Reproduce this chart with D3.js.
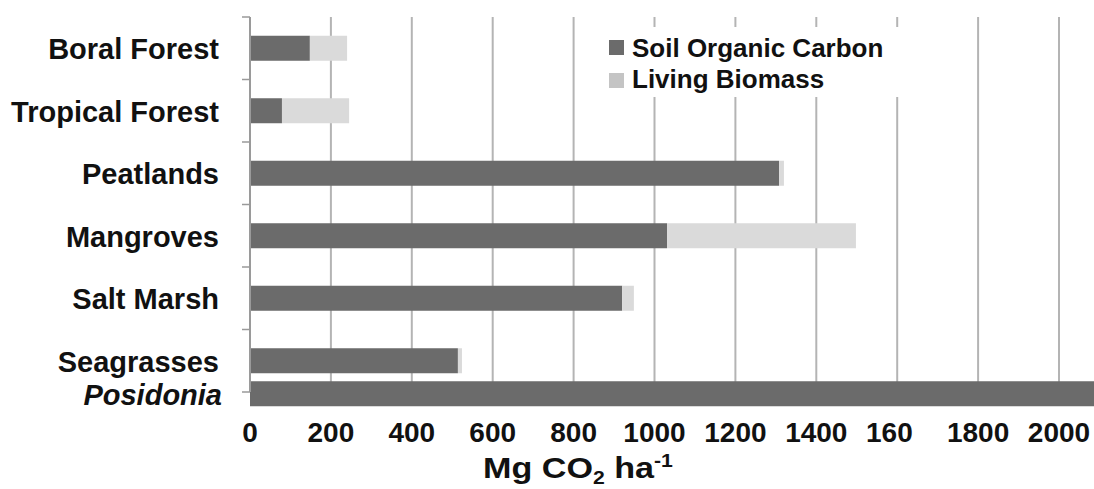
<!DOCTYPE html>
<html><head><meta charset="utf-8">
<script src="https://cdn.jsdelivr.net/npm/d3@7"></script>
<style>
html,body{margin:0;padding:0;background:#fff;}
svg{display:block;font-family:"Liberation Sans",Arial,Helvetica,sans-serif;}
</style></head>
<body>
<svg id="chart" width="1094" height="489"></svg>
<script>
// ---- data ----
const categories = ["Boral Forest", "Tropical Forest", "Peatlands", "Mangroves", "Salt Marsh", "Seagrasses"];
const soilOrganicCarbon = [148, 79, 1308, 1031, 920, 514];
const livingBiomass = [92, 166, 12, 467, 29, 10];
const extraLabel = "Posidonia";
const extraValue = 2250;
const tickValues = [0, 200, 400, 600, 800, 1000, 1200, 1400, 1600, 1800, 2000];
const tickLabels = ["0", "200", "400", "600", "800", "1000", "1200", "1400", "160", "1800", "2000"];
const seriesNames = ["Soil Organic Carbon", "Living Biomass"];

// ---- layout ----
const svg = d3.select("#chart");
const x = d3.scaleLinear().domain([0, 2000]).range([250, 1059]);
const y = d3.scaleBand().domain(categories).range([17, 392]).paddingInner(0.6).paddingOuter(0.3);
const dark = "#6b6b6b", light = "#dadada", gridC = "#b4b4b4";

// gridlines
svg.append("g").selectAll("line").data(tickValues.filter(d => d > 0)).join("line")
  .attr("x1", d => x(d)).attr("x2", d => x(d))
  .attr("y1", 17).attr("y2", 392)
  .attr("stroke", gridC).attr("stroke-width", 2);

// bars
const rows = categories.map((c, i) => ({c, soc: soilOrganicCarbon[i], bio: livingBiomass[i]}));
const gb = svg.append("g");
gb.selectAll("rect.soc").data(rows).join("rect").attr("class", "soc")
  .attr("x", x(0)).attr("y", d => y(d.c))
  .attr("width", d => x(d.soc) - x(0)).attr("height", y.bandwidth()).attr("fill", dark);
gb.selectAll("rect.bio").data(rows).join("rect").attr("class", "bio")
  .attr("x", d => x(d.soc)).attr("y", d => y(d.c))
  .attr("width", d => x(d.soc + d.bio) - x(d.soc)).attr("height", y.bandwidth()).attr("fill", light);
// Posidonia bar (sub-row under Seagrasses)
const yPos = y("Seagrasses") + y.bandwidth() + 8;
gb.append("rect").attr("x", x(0)).attr("y", yPos)
  .attr("width", x(extraValue) - x(0)).attr("height", y.bandwidth()).attr("fill", dark);

// y axis line + ticks at band boundaries
const axisC = "#9a9a9a";
svg.append("line").attr("x1", 250).attr("x2", 250).attr("y1", 17).attr("y2", 392)
  .attr("stroke", axisC).attr("stroke-width", 2);
const bounds = d3.range(categories.length + 1).map(i => y.range()[0] + i * y.step());
svg.append("g").selectAll("line").data(bounds).join("line")
  .attr("x1", 242).attr("x2", 250).attr("y1", d => d).attr("y2", d => d)
  .attr("stroke", axisC).attr("stroke-width", 1.5);

// category labels
svg.append("g").selectAll("text").data(categories).join("text")
  .attr("x", 219).attr("y", d => y(d) + y.bandwidth() / 2 + 11)
  .attr("text-anchor", "end").attr("font-size", 29).attr("font-weight", "bold").attr("fill", "#111")
  .text(d => d);
svg.append("text").attr("x", 222).attr("y", yPos + y.bandwidth() / 2 + 11)
  .attr("text-anchor", "end").attr("font-size", 29).attr("font-weight", "bold")
  .attr("font-style", "italic").attr("fill", "#111").text(extraLabel);

// x tick labels
const tg = svg.append("g").attr("font-size", 28).attr("font-weight", "bold").attr("fill", "#111");
tickValues.forEach((v, i) => {
  const t = tg.append("text").attr("y", 442).attr("x", x(v)).attr("text-anchor", "middle").text(String(v));
  if (tickLabels[i] !== String(v)) {
    const w = t.node().getComputedTextLength();
    t.attr("text-anchor", "start").attr("x", x(v) - w / 2).text(tickLabels[i]);
  } else {
    t.text(tickLabels[i]);
  }
});

// axis title (stretched horizontally like the reference)
const tg2 = svg.append("g");
const tt = tg2.append("text").attr("x", 0).attr("y", 0)
  .attr("font-size", 29).attr("font-weight", "bold").attr("fill", "#111");
tt.append("tspan").text("Mg CO");
tt.append("tspan").attr("font-size", 18).attr("dy", 6).text("2");
tt.append("tspan").attr("dy", -6).text(" ha");
tt.append("tspan").attr("font-size", 18).attr("dy", -11).text("-1");
const bb = tt.node().getBBox();
const targetW = 190, sx = targetW / bb.width;
tg2.attr("transform", `translate(${483 - bb.x * sx},478) scale(${sx},1)`);

// legend
const lg = svg.append("g");
lg.append("rect").attr("x", 592).attr("y", 27).attr("width", 312).attr("height", 70).attr("fill", "#fff");
const legColors = [dark, "#c4c4c4"];
seriesNames.forEach((s, i) => {
  lg.append("rect").attr("x", 609).attr("y", 40 + i * 33).attr("width", 15).attr("height", 15).attr("fill", legColors[i]);
  lg.append("text").attr("x", 632).attr("y", 57 + i * 31).attr("font-size", 26).attr("font-weight", "bold")
    .attr("fill", "#111").text(s);
});
</script>
</body></html>
